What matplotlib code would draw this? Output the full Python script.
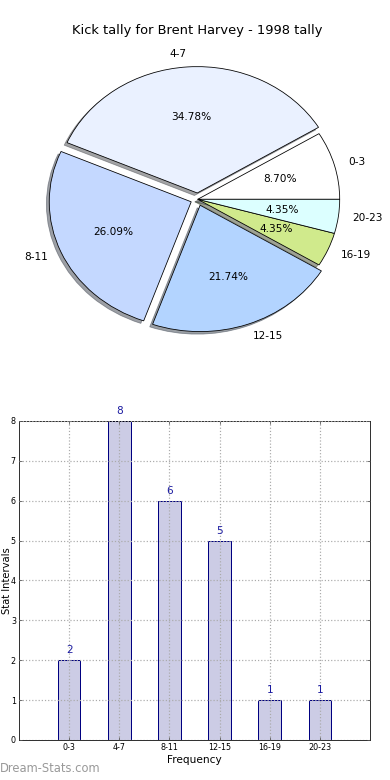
import matplotlib
matplotlib.use('Agg')
import matplotlib.pyplot as plt

# data
intervals = ['0-3', '4-7', '8-11', '12-15', '16-19', '20-23']
counts = [2, 8, 6, 5, 1, 1]
pie_colours = ['#ffffff', '#eaf1ff', '#c4d8ff', '#b3d4ff', '#d0ea8c', '#dcffff']
explode = [0, 0.05, 0.05, 0.05, 0, 0]

fig = plt.figure(figsize=(390 / 72, 780 / 72), dpi=72)
fig.patch.set_facecolor('white')

# pie
ax1 = fig.add_axes([0.052, 0.542, 0.91, 0.405])
wedges, texts, autotexts = ax1.pie(counts, labels=intervals, colors=pie_colours, explode=explode,
                                   autopct='%1.2f%%', shadow=True, startangle=0,
                                   wedgeprops={'edgecolor': 'black', 'linewidth': 0.8},
                                   textprops={'fontsize': 10.5})
ax1.set_aspect('auto')
ax1.set_xlim(-1.25, 1.25)
ax1.set_ylim(-1.25, 1.25)
ax1.set_title('Kick tally for Brent Harvey - 1998 tally', fontsize=13, pad=7)

# bars
ax2 = fig.add_axes([0.0487, 0.0513, 0.9, 0.409])
pos = list(range(len(intervals)))
bars = ax2.bar(pos, counts, width=0.45, color=(0, 0, 0.5, 0.2), edgecolor='navy', linewidth=1)
for p, c in zip(pos, counts):
    ax2.text(p, c + 0.12, str(c), ha='center', va='bottom', color='#1a1aa0', fontsize=10.5)
ax2.set_xlim(-1, 6)
ax2.set_ylim(0, 8)
ax2.set_xticks(pos)
ax2.set_xticklabels(intervals, fontsize=8)
ax2.set_yticks(range(0, 9))
ax2.tick_params(axis='y', labelsize=8)
ax2.tick_params(direction='in', length=3, top=True, right=True, colors='#555555', labelcolor='black', pad=3)
ax2.grid(True, linestyle=':', color='#aaaaaa', linewidth=1.2)
ax2.set_axisbelow(False)
ax2.set_xlabel('Frequency', fontsize=10.5, labelpad=3)
ax2.set_ylabel('Stat Intervals', fontsize=10)
ax2.yaxis.set_label_coords(-0.02, 0.5)

fig.text(0.0, 0.006, 'Dream-Stats.com', fontsize=11.5, color='#999999', ha='left', va='bottom')

fig.savefig('out.png', dpi=72)
